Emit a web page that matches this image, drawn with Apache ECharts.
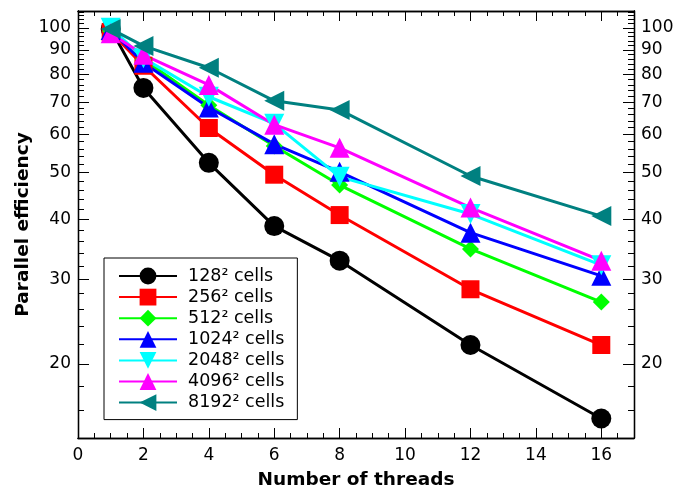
<!DOCTYPE html>
<html>
<head>
<meta charset="utf-8">
<script src="https://cdn.jsdelivr.net/npm/echarts@6/dist/echarts.min.js"></script>
<style>html,body{margin:0;padding:0;background:#fff}#c{width:691px;height:492px}</style>
</head>
<body>
<div id="c"></div>
<script>
const threads = [1, 2, 4, 6, 8, 12, 16];
const seriesNames = ['128² cells', '256² cells', '512² cells', '1024² cells', '2048² cells', '4096² cells', '8192² cells'];
const eff128  = [99.5, 75.0, 52.4, 38.7, 32.8, 21.9, 15.4];
const eff256  = [98.0, 83.4, 61.9, 49.5, 40.8, 28.6, 21.9];
const eff512  = [98.5, 86.0, 69.0, 56.8, 47.1, 34.7, 26.9];
const eff1024 = [99.0, 84.6, 68.3, 57.3, 50.2, 37.5, 30.5];
const eff2048 = [100.0, 86.5, 71.9, 63.2, 49.0, 41.0, 32.1];
const eff4096 = [97.5, 87.9, 76.1, 62.9, 56.3, 42.3, 32.8];
const eff8192 = [99.5, 91.7, 82.6, 70.5, 67.5, 49.2, 40.6];
const xMajorTicks = [0, 2, 4, 6, 8, 10, 12, 14, 16];
const yMajorTicks = [20, 30, 40, 50, 60, 70, 80, 90, 100];

const colors = ['#000000', '#ff0000', '#00ff00', '#0000ff', '#00ffff', '#ff00ff', '#008080'];
const symbols = ['circle', 'rect', 'diamond', 'triangle', 'triangle', 'triangle', 'triangle'];
const rotates = [0, 0, 0, 0, 180, 0, 90];
const sizes = [20, 18, 17, 20, 20, 20, 20];
const allData = [eff128, eff256, eff512, eff1024, eff2048, eff4096, eff8192];

const xMinor = []; for (let v = 0; v <= 17.001; v += 0.5) { if (v % 2 !== 0) xMinor.push(v); }
const yMinor = []; for (let v = 16; v <= 108; v += 2) { if (v % 10 !== 0) yMinor.push(v); }

const FONT = 'DejaVu Sans';
const labelStyle = { color: '#000', fontFamily: FONT, fontSize: 17 };

function xAx(pos, major, show) {
  return {
    type: 'value', position: pos, min: 0, max: 17,
    axisLine: { show: true, onZero: false, lineStyle: { color: '#000', width: 1.3 } },
    axisTick: { show: true, inside: true, length: major ? 10 : 5, customValues: major ? xMajorTicks : xMinor, lineStyle: { color: '#000', width: 1 } },
    axisLabel: Object.assign({ show: show, margin: 9, customValues: xMajorTicks }, labelStyle),
    splitLine: { show: false },
    name: show ? 'Number of threads' : '', nameLocation: 'middle', nameGap: 33, nameMoveOverlap: false,
    nameTextStyle: { color: '#000', fontFamily: FONT, fontWeight: 'bold', fontSize: 18.5 }
  };
}
function yAx(pos, major, show) {
  return {
    type: 'log', logBase: 10, position: pos, min: 14.03, max: 108.4,
    axisLine: { show: true, onZero: false, lineStyle: { color: '#000', width: 1.3 } },
    axisTick: { show: true, inside: true, length: major ? 11 : 6, customValues: major ? yMajorTicks : yMinor, lineStyle: { color: '#000', width: 1 } },
    axisLabel: Object.assign({ show: show, margin: 7, customValues: yMajorTicks }, labelStyle),
    splitLine: { show: false }, minorTick: { show: false },
    name: (show && pos === 'left') ? 'Parallel efficiency' : '', nameLocation: 'middle', nameGap: 45, nameMoveOverlap: false,
    nameTextStyle: { color: '#000', fontFamily: FONT, fontWeight: 'bold', fontSize: 18.5 }
  };
}

const series = seriesNames.map((n, i) => ({
  name: n, type: 'line', xAxisIndex: 0, yAxisIndex: 0,
  data: threads.map((t, j) => [t, allData[i][j]]),
  symbol: symbols[i], symbolSize: sizes[i], symbolRotate: rotates[i],
  showAllSymbol: true,
  lineStyle: { color: colors[i], width: 3 },
  itemStyle: { color: colors[i], borderWidth: 0 },
  emphasis: { disabled: true }, animation: false
}));

const chart = echarts.init(document.getElementById('c'), null, { renderer: 'canvas' });
chart.setOption({
  animation: false,
  backgroundColor: '#fff',
  grid: { left: 78, right: 57, top: 11, bottom: 54, containLabel: false, outerBoundsMode: 'none' },
  xAxis: [xAx('bottom', true, true), xAx('bottom', false, false), xAx('top', true, false), xAx('top', false, false)],
  yAxis: [yAx('left', true, true), yAx('left', false, false), yAx('right', true, true), yAx('right', false, false)],
  legend: {
    orient: 'vertical', left: 104, top: 258,
    itemWidth: 58, itemHeight: 21, itemGap: 3.1,
    padding: [9, 13, 8, 14],
    borderColor: '#000', borderWidth: 1, backgroundColor: '#fff', borderRadius: 0,
    textStyle: { color: '#000', fontFamily: FONT, fontSize: 17.5, padding: [0, 0, 0, 6] },
    data: seriesNames
  },
  series: series
});
</script>
</body>
</html>
